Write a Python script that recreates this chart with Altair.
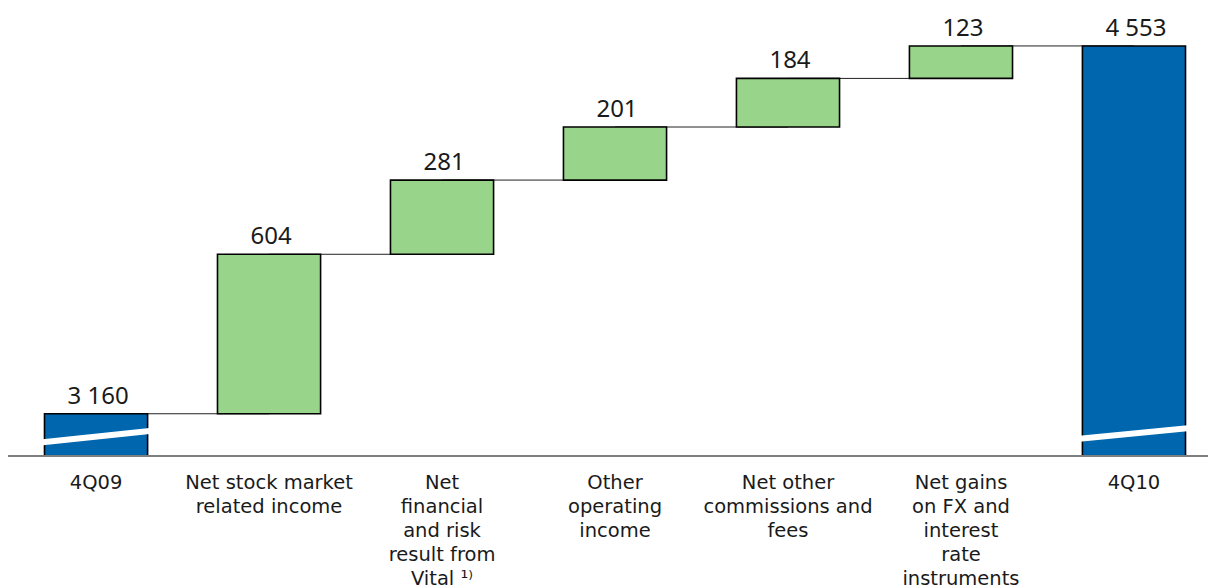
import altair as alt
import pandas as pd

categories = [
    "4Q09",
    "Net stock market\nrelated income",
    "Net\nfinancial\nand risk\nresult from\nVital ¹⁾",
    "Other\noperating\nincome",
    "Net other\ncommissions and\nfees",
    "Net gains\non FX and\ninterest\nrate\ninstruments",
    "4Q10",
]
values = [3160, 604, 281, 201, 184, 123, 4553]
kinds = ["total", "delta", "delta", "delta", "delta", "delta", "total"]
value_labels = ["3 160", "604", "281", "201", "184", "123", "4 553"]

axis_floor = 3000   # broken axis starts here
y_top = 4727

# axis-break decorations (slanted white strokes across the total bars)
break_idx = [0, 6]
break_dx_left = [-0.35, -0.33]
break_dx_right = [0.42, 0.5]
break_y_left = [3049, 3064]
break_y_right = [3102, 3117]

rows = []
run = 0
for i, (c, v, k, lab) in enumerate(zip(categories, values, kinds, value_labels)):
    if k == "total":
        start, end = axis_floor, v
        run = v
    else:
        start, end = run, run + v
        run = end
    rows.append(dict(idx=i, cat=c, start=start, end=end, kind=k, label=lab,
                     left=i - 0.298, right=i + 0.298, nxt=i + 1))
df = pd.DataFrame(rows)

brk = pd.DataFrame(dict(
    x=[b + d for b, d in zip(break_idx, break_dx_left)],
    x2=[b + d for b, d in zip(break_idx, break_dx_right)],
    y=break_y_left, y2=break_y_right))

xs = alt.Scale(domain=[-0.509, 6.428], nice=False, zero=False)
ys = alt.Scale(domain=[axis_floor, y_top], nice=False, zero=False)

base = alt.Chart(df)

connectors = base.transform_filter("datum.idx < 6").mark_rule(
    color="#222222", strokeWidth=1
).encode(
    x=alt.X("idx:Q", scale=xs, axis=None),
    x2="nxt:Q",
    y=alt.Y("end:Q", scale=ys, axis=None),
)

bars = base.mark_bar(stroke="#000000", strokeWidth=1.6).encode(
    x=alt.X("left:Q", scale=xs, axis=None),
    x2="right:Q",
    y=alt.Y("start:Q", scale=ys, axis=None),
    y2="end:Q",
    color=alt.Color("kind:N", scale=alt.Scale(domain=["total", "delta"],
                                               range=["#0066AE", "#98D58A"]),
                    legend=None),
)

breaks = alt.Chart(brk).mark_rule(color="white", strokeWidth=6, strokeCap="butt").encode(
    x=alt.X("x:Q", scale=xs, axis=None), x2="x2:Q",
    y=alt.Y("y:Q", scale=ys, axis=None), y2="y2:Q",
)

axis_line = alt.Chart(pd.DataFrame({"a": [-0.509], "b": [6.428], "y": [axis_floor]})).mark_rule(
    color="#7f7f7f", strokeWidth=2
).encode(
    x=alt.X("a:Q", scale=xs, axis=None), x2="b:Q",
    y=alt.Y("y:Q", scale=ys, axis=None),
)

value_text = base.mark_text(
    font="Noto Sans", fontSize=24, color="#1a1a1a", baseline="alphabetic", dy=-10, dx=2
).encode(
    x=alt.X("idx:Q", scale=xs, axis=None),
    y=alt.Y("end:Q", scale=ys, axis=None),
    text="label:N",
)

cat_text = base.mark_text(
    font="DejaVu Sans", fontSize=19.5, color="#1a1a1a", baseline="top", dy=18,
    lineHeight=24, lineBreak="\n", align="center"
).encode(
    x=alt.X("idx:Q", scale=xs, axis=None),
    y=alt.datum(axis_floor, scale=ys),
    text="cat:N",
)

chart = alt.layer(connectors, bars, breaks, axis_line, value_text, cat_text).properties(
    width=1200, height=456,
    padding={"left": 8, "top": 0, "right": 0, "bottom": 132},
    autosize=alt.AutoSizeParams(type="none"),
).configure_view(stroke=None)

chart.save("out.html", embed_options={"renderer": "svg", "actions": False})
